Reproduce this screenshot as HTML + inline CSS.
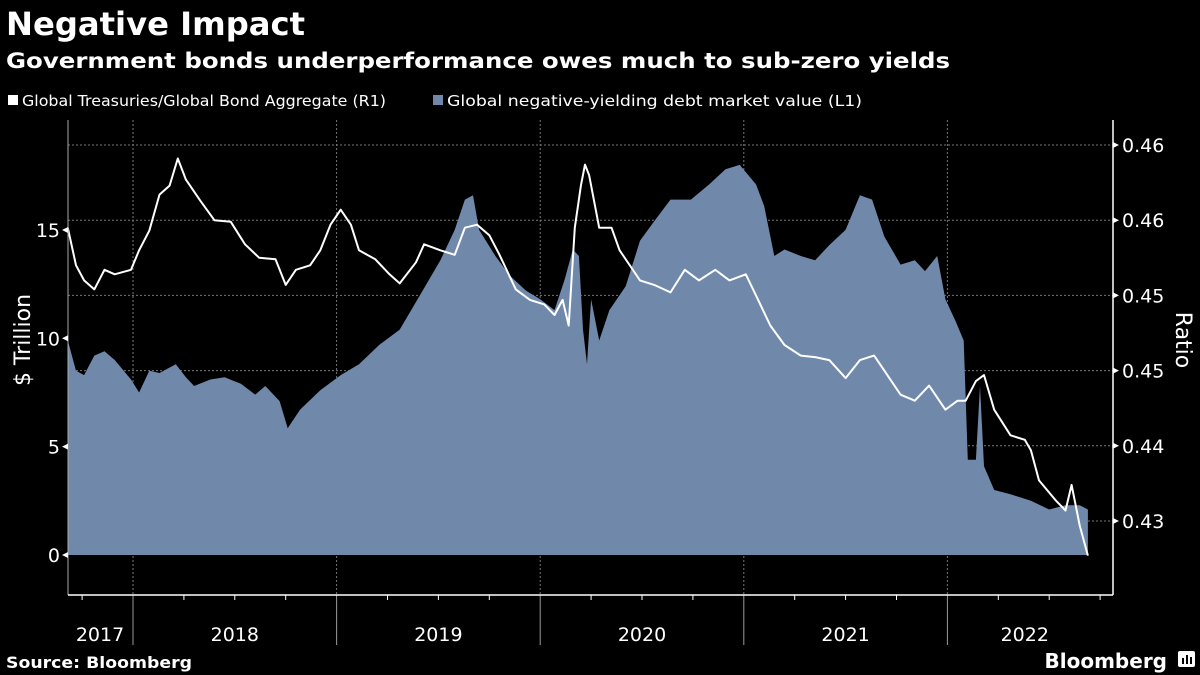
<!DOCTYPE html>
<html><head><meta charset="utf-8"><style>
body{margin:0;background:#000;width:1200px;height:675px;overflow:hidden;font-family:"Liberation Sans","DejaVu Sans",sans-serif;color:#fff}
svg{position:absolute;left:0;top:0}
</style></head><body>
<svg id="chart" width="1200" height="675">
<text x="6" y="35" font-size="32" font-weight="bold" fill="#fff" font-family="DejaVu Sans, sans-serif" textLength="299" lengthAdjust="spacingAndGlyphs">Negative Impact</text>
<text x="6" y="68" font-size="21" font-weight="bold" fill="#fff" font-family="DejaVu Sans, sans-serif" textLength="944" lengthAdjust="spacingAndGlyphs">Government bonds underperformance owes much to sub-zero yields</text>
<rect x="8" y="95" width="10" height="10" fill="#fff"/>
<text x="22" y="106" font-size="15.5" fill="#fff" font-family="DejaVu Sans, sans-serif" textLength="364" lengthAdjust="spacingAndGlyphs">Global Treasuries/Global Bond Aggregate (R1)</text>
<rect x="433" y="95" width="10" height="10" fill="#7089ab"/>
<text x="447" y="106" font-size="15.5" fill="#fff" font-family="DejaVu Sans, sans-serif" textLength="415" lengthAdjust="spacingAndGlyphs">Global negative-yielding debt market value (L1)</text>
<text transform="translate(30,340) rotate(-90)" text-anchor="middle" font-size="22" fill="#fff" font-family="DejaVu Sans, sans-serif">$ Trillion</text>
<text transform="translate(1176,340) rotate(90)" text-anchor="middle" font-size="22" fill="#fff" font-family="DejaVu Sans, sans-serif">Ratio</text>
<text x="6" y="668" font-size="16" font-weight="bold" fill="#fff" font-family="DejaVu Sans, sans-serif" textLength="186" lengthAdjust="spacingAndGlyphs">Source: Bloomberg</text>
<text x="1167" y="668" text-anchor="end" font-size="20" font-weight="bold" fill="#fff" font-family="DejaVu Sans, sans-serif">Bloomberg</text>
<g><rect x="1178" y="651" width="17" height="16" rx="2" fill="#fff"/><rect x="1182" y="658" width="2" height="6" fill="#000"/><rect x="1186" y="655" width="2" height="9" fill="#000"/><rect x="1190" y="657" width="2" height="7" fill="#000"/></g>
<g id="plot"></g>
</svg>
<script>
const areaDates=[2017.68,2017.72,2017.76,2017.81,2017.86,2017.91,2017.99,2018.03,2018.08,2018.13,2018.21,2018.26,2018.30,2018.38,2018.45,2018.53,2018.60,2018.65,2018.72,2018.76,2018.82,2018.92,2019.02,2019.11,2019.21,2019.31,2019.41,2019.51,2019.58,2019.63,2019.67,2019.70,2019.78,2019.85,2019.93,2020.00,2020.07,2020.12,2020.16,2020.19,2020.21,2020.23,2020.25,2020.29,2020.34,2020.42,2020.49,2020.56,2020.64,2020.74,2020.83,2020.91,2020.98,2021.06,2021.10,2021.15,2021.20,2021.28,2021.35,2021.42,2021.50,2021.57,2021.63,2021.69,2021.77,2021.84,2021.89,2021.95,2021.99,2022.04,2022.08,2022.10,2022.14,2022.16,2022.18,2022.23,2022.31,2022.41,2022.50,2022.58,2022.65,2022.69];
const areaValues=[9.9,8.5,8.3,9.2,9.4,9.0,8.1,7.5,8.5,8.4,8.8,8.2,7.8,8.1,8.2,7.9,7.4,7.8,7.1,5.85,6.7,7.6,8.3,8.8,9.7,10.4,12.0,13.6,15.0,16.4,16.6,15.0,13.8,12.9,12.2,11.8,11.3,12.7,14.1,13.8,10.4,8.8,11.8,9.9,11.3,12.4,14.5,15.4,16.4,16.4,17.1,17.8,18.0,17.1,16.1,13.8,14.1,13.8,13.6,14.3,15.0,16.6,16.4,14.7,13.4,13.6,13.1,13.8,11.8,10.8,9.9,4.4,4.4,7.8,4.1,3.0,2.8,2.5,2.1,2.3,2.3,2.1];
const lineDates=[2017.68,2017.72,2017.76,2017.81,2017.86,2017.91,2017.99,2018.03,2018.08,2018.13,2018.18,2018.22,2018.26,2018.33,2018.40,2018.48,2018.55,2018.62,2018.70,2018.75,2018.80,2018.87,2018.92,2018.97,2019.02,2019.07,2019.11,2019.19,2019.26,2019.31,2019.39,2019.43,2019.51,2019.58,2019.63,2019.69,2019.75,2019.80,2019.88,2019.95,2020.02,2020.07,2020.11,2020.14,2020.17,2020.20,2020.22,2020.24,2020.29,2020.35,2020.39,2020.44,2020.49,2020.56,2020.64,2020.71,2020.78,2020.86,2020.93,2021.01,2021.06,2021.13,2021.20,2021.28,2021.35,2021.42,2021.50,2021.57,2021.64,2021.69,2021.77,2021.84,2021.91,2021.99,2022.05,2022.09,2022.14,2022.18,2022.23,2022.31,2022.38,2022.41,2022.45,2022.53,2022.58,2022.61,2022.65,2022.69];
const lineValues=[0.4545,0.4520,0.4510,0.4504,0.4517,0.4514,0.4517,0.4530,0.4543,0.4567,0.4573,0.4591,0.4577,0.4563,0.4550,0.4549,0.4534,0.4525,0.4524,0.4507,0.4517,0.4520,0.4530,0.4547,0.4557,0.4547,0.4530,0.4524,0.4514,0.4508,0.4522,0.4534,0.4530,0.4527,0.4545,0.4547,0.4540,0.4527,0.4504,0.4497,0.4494,0.4487,0.4497,0.4480,0.4545,0.4573,0.4587,0.4580,0.4545,0.4545,0.4530,0.4520,0.4510,0.4507,0.4502,0.4517,0.4510,0.4517,0.4510,0.4514,0.4500,0.4480,0.4467,0.4460,0.4459,0.4457,0.4445,0.4457,0.4460,0.4450,0.4434,0.4430,0.4440,0.4424,0.4430,0.4430,0.4443,0.4447,0.4424,0.4407,0.4404,0.4397,0.4377,0.4364,0.4357,0.4374,0.4347,0.4327];
const leftTicks=[0,5,10,15];
const rightTicks=[0.46,0.455,0.45,0.445,0.44,0.435];
const rightTickLabels=["0.46","0.46","0.45","0.45","0.44","0.43"];
const yearLabels=["2017","2018","2019","2020","2021","2022"];
const yearStarts=[2018,2019,2020,2021,2022];

const X0=68,X1=1113,YB=595,YT=120;
const xs=t=>133+(t-2018)*203.6;
const yl=v=>555-v*21.67;
const yr=v=>145+(0.46-v)*15040;
const NS="http://www.w3.org/2000/svg";
const g=document.getElementById('plot');
function mk(tag,attrs){const e=document.createElementNS(NS,tag);for(const k in attrs)e.setAttribute(k,attrs[k]);g.appendChild(e);return e;}

rightTicks.forEach((v,i)=>{
  const l=mk('line',{x1:X0,x2:X1,y1:yr(v),y2:yr(v),stroke:'#777','stroke-width':1,'stroke-dasharray':'2,2'});
  
  
});
yearStarts.forEach(y=>{
  const l=mk('line',{x1:xs(y),x2:xs(y),y1:YT,y2:YB,stroke:'#777','stroke-width':1,'stroke-dasharray':'2,2'});
  
  
  const s=mk('line',{x1:xs(y),x2:xs(y),y1:YB,y2:645,stroke:'#999','stroke-width':1});
  
  
});
let d='M'+xs(areaDates[0])+','+yl(0);
areaDates.forEach((t,i)=>{d+=' L'+xs(t).toFixed(1)+','+yl(areaValues[i]).toFixed(1);});
d+=' L'+xs(areaDates[areaDates.length-1])+','+yl(0)+' Z';
const area=mk('path',{d:d,fill:'#7089ab'});


let ld='';
lineDates.forEach((t,i)=>{ld+=(i?' L':'M')+xs(t).toFixed(1)+','+yr(lineValues[i]).toFixed(1);});
const line=mk('path',{d:ld,fill:'none',stroke:'#fff','stroke-width':2,'stroke-linejoin':'round'});


const la=mk('line',{x1:X0,x2:X0,y1:YT,y2:YB,stroke:'#aaa','stroke-width':1});


const ra=mk('line',{x1:X1,x2:X1,y1:YT,y2:YB,stroke:'#fff','stroke-width':1.5});


const ba=mk('line',{x1:X0,x2:X1,y1:YB,y2:YB,stroke:'#fff','stroke-width':1.5});


leftTicks.forEach(v=>{
  const y=yl(v);
  const p=mk('path',{d:`M${X0},${y-3} L${X0-6},${y} L${X0},${y+3}Z`,fill:'#fff'});
  
  
  const t=mk('text',{x:X0-8,y:y+7,'text-anchor':'end','font-size':19,fill:'#fff','font-family':'DejaVu Sans, sans-serif'});
  t.textContent=v;
  
  
});
rightTicks.forEach((v,i)=>{
  const y=yr(v);
  const p=mk('path',{d:`M${X1},${y-3} L${X1+6},${y} L${X1},${y+3}Z`,fill:'#fff'});
  
  
  const t=mk('text',{x:X1+9,y:y+7,'font-size':19,fill:'#fff','font-family':'DejaVu Sans, sans-serif'});
  t.textContent=rightTickLabels[i];
  
  
});
for(let q=2017.75;q<=2022.76;q+=0.25){
  if(Math.abs(q-Math.round(q))<0.01)continue;
  const l=mk('line',{x1:xs(q),x2:xs(q),y1:YB,y2:YB+5,stroke:'#fff','stroke-width':1});
  
  
}
yearLabels.forEach((y,i)=>{
  const yr0=+y;
  let a=Math.max(yr0,2017.68),b=Math.min(yr0+1,2022.76);
  let cx=(xs(a)+xs(b))/2;
  if(y==="2017")cx=100;
  const t=mk('text',{x:cx,y:641,'text-anchor':'middle','font-size':19,fill:'#fff','font-family':'DejaVu Sans, sans-serif'});
  t.textContent=y;
  
  
});
</script>
</body></html>
